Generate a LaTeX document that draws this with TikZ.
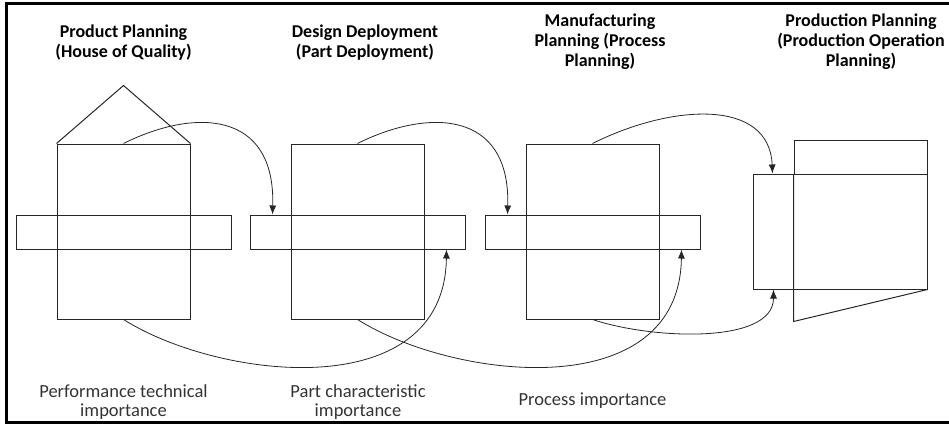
\documentclass[tikz,border=0pt]{standalone}
\usepackage{fontspec}
\setmainfont{Carlito}
\usetikzlibrary{calc,arrows.meta}

\tikzset{
  box/.style={rectangle,draw=black!85,line width=1pt,minimum width=133pt,minimum height=175pt,inner sep=0pt},
  bar/.style={rectangle,draw=black!85,line width=1pt,minimum width=215pt,minimum height=34pt,inner sep=0pt},
  title/.style={align=center,font=\fontsize{18}{20}\selectfont\bfseries},
  note/.style={align=center,text=black!80,font=\fontsize{18.5}{19}\selectfont},
  flow/.style={-{Latex[length=9pt,width=7pt]},line width=0.8pt,black!85}
}

\begin{document}
\begin{tikzpicture}[x=1pt,y=-1pt]
      \useasboundingbox (0,0) rectangle (949,425);
      % outer frame, open on the right
      \draw [line width=3pt] (6.5,4) rectangle (960,422.5);
      % three matrices with their crossing bars
      \foreach \i/\x in {1/123.5,2/357.5,3/592.5}{
        \node (r\i) [box] at (\x,231.5){};
        \node (b\i) [bar] at (\x,232){};
      }
      \coordinate (roof) at ($ (r1.north)+(0,-58) $);
      \draw [line width=1pt,black!85] (r1.north west) -- (roof) -- (r1.north east);
      % production planning sheet
      \node (t4) [box,minimum width=133pt,minimum height=34pt] at (860.5,157){};
      \node (l4) [box,minimum width=174pt,minimum height=115pt] at (840,231.5){};
      \coordinate (foot) at ($ (t4.south west)+(0,147) $);
      \draw [line width=1pt,black!85] (t4.south west) -- (foot) -- (l4.south east);
      % titles
      \node (h1) [title] at (123.5,43) {Product Planning\\(House of Quality)};
      \node (h2) [title] at (365,43) {Design Deployment\\(Part Deployment)};
      \node (h3) [title] at (600,42) {Manufacturing\\Planning (Process\\Planning)};
      \node (h4) [title] at (861,42) {Production Planning\\(Production Operation\\Planning)};
      % importance rows
      \node (n1) [note] at (123.5,402) {Performance technical\\importance};
      \node (n2) [note] at (358,402) {Part characteristic\\importance};
      \node (n3) [note] at (592.5,401) {Process importance};
      % links over the top
      \coordinate (a2) at ($ (b2.north west)+(23,0) $);
      \coordinate (a3) at ($ (b3.north west)+(23,0) $);
      \coordinate (a4) at ($ (l4.north west)+(20,0) $);
      \draw [flow] (r1.north) .. controls +(70,-35) and +(3,-105) .. (a2);
      \draw [flow] (r2.north) .. controls +(70,-35) and +(3,-105) .. (a3);
      \draw [flow] (r3.north) .. controls +(80,-40) and +(-3,-75) .. (a4);
      % links underneath
      \coordinate (c2) at ($ (b2.south east)+(-19,0) $);
      \coordinate (c3) at ($ (b3.south east)+(-19,0) $);
      \coordinate (c4) at ($ (l4.south west)+(21,0) $);
      \draw [flow] (r1.south) .. controls +(97,61) and +(-2,156) .. (c2);
      \draw [flow] (r2.south) .. controls +(97,61) and +(-2,156) .. (c3);
      \draw [flow] (r3.south) .. controls +(60,20) and +(0,55) .. (c4);
    \end{tikzpicture}
\end{document}
